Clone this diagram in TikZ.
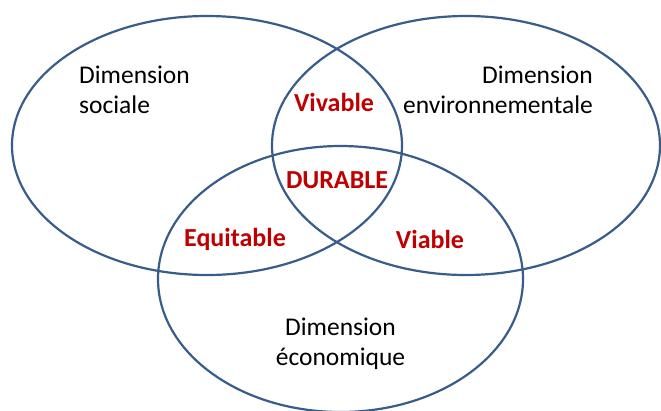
\documentclass[tikz,border=0pt]{standalone}
\usepackage{fontspec}
\setmainfont{Carlito}
\usepackage{xcolor}
\usepackage{tikz}
\definecolor{bg}{HTML}{FFFFFF}
\definecolor{ring}{HTML}{385D8A}
\definecolor{text}{HTML}{000000}
\definecolor{accent}{HTML}{C00000}
\tikzset{
  circ/.style={draw=ring, line width=2.2pt},
  dim/.style={text=text, font=\fontsize{25.5}{30}\selectfont, inner sep=0pt},
  key/.style={text=accent, font=\fontsize{26}{30}\selectfont\bfseries, inner sep=0pt},
}
\begin{document}
\begin{tikzpicture}[x=1pt,y=-1pt]
  \useasboundingbox[fill=bg] (0,0) rectangle (661,410);
  \draw[circ] (207,145.5) ellipse [x radius=195, y radius=129.5];
  \draw[circ] (466,145.5) ellipse [x radius=194, y radius=129.5];
  \draw[circ] (340.5,279) ellipse [x radius=182.5, y radius=133];
  \node[dim, anchor=base west, align=left] (soc) at (79,113) {Dimension\\sociale};
  \node[dim, anchor=base east, align=right] (env) at (593,113) {Dimension\\environnementale};
  \node[dim, anchor=base, align=center] (eco) at (340.5,365) {Dimension\\économique};
  \node[key] (viv) at (334,102) {Vivable};
  \node[key] (dur) at (337,180) {DURABLE};
  \node[key] (equ) at (235,239) {Equitable};
  \node[key] (via) at (430,239) {Viable};
\end{tikzpicture}
\end{document}
